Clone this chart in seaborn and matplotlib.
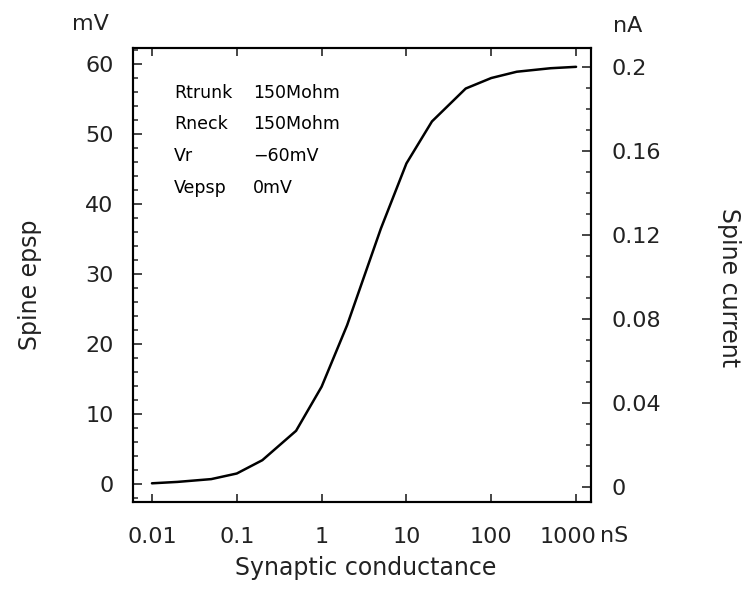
import numpy as np
import pandas as pd
import matplotlib
matplotlib.use("Agg")
import matplotlib.pyplot as plt
from matplotlib.ticker import MultipleLocator, NullLocator, FixedLocator
from matplotlib.transforms import ScaledTranslation
import seaborn as sns

# ----------------------------------------------------------------------------
# data
# ----------------------------------------------------------------------------
conductance_ns = [0.01, 0.02, 0.05, 0.1, 0.2, 0.5, 1, 2, 5, 10,
                  20, 50, 100, 200, 500, 1000]
spine_epsp_mv = [0.1, 0.3, 0.7, 1.5, 3.4, 7.6, 13.9, 22.7, 36.5, 45.8,
                 51.8, 56.5, 58.0, 58.9, 59.4, 59.6]

x_ticks = [0.01, 0.1, 1, 10, 100, 1000]
x_tick_labels = ["0.01", "0.1", "1", "10", "100", "1000"]
mv_ticks = [0, 10, 20, 30, 40, 50, 60]
na_ticks = [0, 0.04, 0.08, 0.12, 0.16, 0.2]
na_tick_labels = ["0", "0.04", "0.08", "0.12", "0.16", "0.2"]

param_names = ["Rtrunk", "Rneck", "Vr", "Vepsp"]
param_values = ["150Mohm", "150Mohm", "\u221260mV", "0mV"]

df = pd.DataFrame({"g": conductance_ns, "v": spine_epsp_mv})

sns.set_style("ticks")
plt.rcParams["font.family"] = ["DejaVu Sans"]
txt = "#222222"

W, H = 742, 598
fig = plt.figure(figsize=(W / 100, H / 100), dpi=100)
ax = fig.add_axes([133 / W, 1 - 502 / H, 458 / W, 454 / H])

sns.lineplot(data=df, x="g", y="v", ax=ax, color="black", linewidth=1.8)

ax.set_xscale("log")
ax.set_xlim(10 ** -2.2235, 10 ** 3.176)
ax.set_ylim(-2.571, 62.29)
ax.set_xlabel("")
ax.set_ylabel("")

ax.xaxis.set_major_locator(FixedLocator(x_ticks))
ax.set_xticklabels(x_tick_labels)
ax.xaxis.set_minor_locator(NullLocator())
ax.set_yticks(mv_ticks)
ax.yaxis.set_minor_locator(MultipleLocator(2))

ax.tick_params(axis="x", which="major", direction="in", top=True,
               length=5.8, width=1.2, pad=18, labelsize=16, labelcolor=txt)
ax.tick_params(axis="y", which="major", direction="in", length=6.5,
               width=1.2, pad=14, labelsize=16, labelcolor=txt)
ax.tick_params(axis="y", which="minor", direction="in", length=3.3,
               width=1.1)

# the last x label sits a bit left of its tick so the unit fits after it
last = ax.get_xticklabels()[-1]
last.set_transform(last.get_transform()
                   + ScaledTranslation(-8 / 100, 0, fig.dpi_scale_trans))

# right axis: spine current, same plot box
ax2 = ax.twinx()
ax2.set_ylim(-0.00714, 0.20905)
ax2.set_yticks(na_ticks)
ax2.set_yticklabels(na_tick_labels)
ax2.yaxis.set_minor_locator(MultipleLocator(0.01))
ax2.tick_params(axis="y", which="major", direction="in", length=6.5,
                width=1.2, pad=15, labelsize=16, labelcolor=txt)
ax2.tick_params(axis="y", which="minor", direction="in", length=3.3,
                width=1.1)

for a in (ax, ax2):
    for s in a.spines.values():
        s.set_linewidth(1.5)
        s.set_color("black")

# parameter block inside the plot
rows_y = [0.8899, 0.8216, 0.7511, 0.6806]
for name, val, yy in zip(param_names, param_values, rows_y):
    ax.text(0.0893, yy, name, transform=ax.transAxes, fontsize=12.5,
            va="baseline", ha="left", color="black")
    ax.text(0.2614, yy, val, transform=ax.transAxes, fontsize=12.5,
            va="baseline", ha="left", color="black")

# axis titles and units
fig.text(366 / W, 1 - 568 / H, "Synaptic conductance", fontsize=17,
         ha="center", va="center", color=txt)
fig.text(30 / W, 1 - 285 / H, "Spine epsp", fontsize=17, rotation=90,
         ha="center", va="center", color=txt)
fig.text(729 / W, 1 - 288 / H, "Spine current", fontsize=17, rotation=270,
         ha="center", va="center", color=txt)
fig.text(90 / W, 1 - 24 / H, "mV", fontsize=16, ha="center", va="center",
         color=txt)
fig.text(628 / W, 1 - 26 / H, "nA", fontsize=16, ha="center", va="center",
         color=txt)
fig.text(600 / W, 1 - 536 / H, "nS", fontsize=16, ha="left", va="center",
         color=txt)

fig.savefig("out.png", dpi=100)
